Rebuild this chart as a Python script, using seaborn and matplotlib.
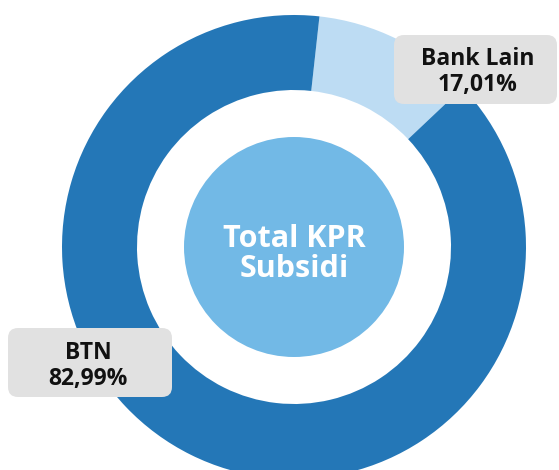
import matplotlib
matplotlib.use("Agg")
import matplotlib.pyplot as plt
from matplotlib.patches import Circle, FancyBboxPatch
import seaborn as sns

# what the labels say
banks = ["Bank Lain", "BTN"]
label_pct = ["17,01%", "82,99%"]
# arc sizes as they are drawn in the picture (the arcs do not follow the printed shares)
arc_share = [11.2, 88.8]
ring_colors = ["#BDDCF3", "#2477B7"]
center_text = "Total KPR\nSubsidi"

W, H = 559, 470

sns.set_theme(style="white")
plt.rcParams["font.family"] = ["Open Sans", "DejaVu Sans"]

fig = plt.figure(figsize=(W / 100, H / 100), dpi=100)
ax = fig.add_axes([0, 0, 1, 1])

cx, cy, R = 294, H - 247, 232
ax.pie(arc_share, colors=ring_colors, startangle=83.7, counterclock=False,
       center=(cx, cy), radius=R, wedgeprops=dict(width=R - 157, linewidth=0))
ax.add_patch(Circle((cx, cy), 110, color="#72B9E6", linewidth=0))
ax.text(cx, H - 254, center_text, ha="center", va="center", color="white",
        fontsize=22, fontweight="bold", linespacing=0.98)

# label boxes: (left, top, right, bottom) in pixels, text centre
boxes = {
    "Bank Lain": ((394, 35, 557, 104), (478, 72)),
    "BTN": ((8, 328, 172, 397), (88, 366)),
}
for name, pct in zip(banks, label_pct):
    (l, t, r, b), (tx, ty) = boxes[name]
    ax.add_patch(FancyBboxPatch((l + 10, H - b + 10), r - l - 20, b - t - 20,
                                boxstyle="round,pad=10", facecolor="#E1E1E1",
                                edgecolor="none"))
    ax.text(tx, H - ty, f"{name}\n{pct}", ha="center", va="center",
            color="#111111", fontsize=16.5, fontweight="bold", linespacing=1.12)

ax.set_xlim(0, W)
ax.set_ylim(0, H)
ax.set_aspect("equal")
ax.axis("off")

fig.savefig("out.png", dpi=100)
